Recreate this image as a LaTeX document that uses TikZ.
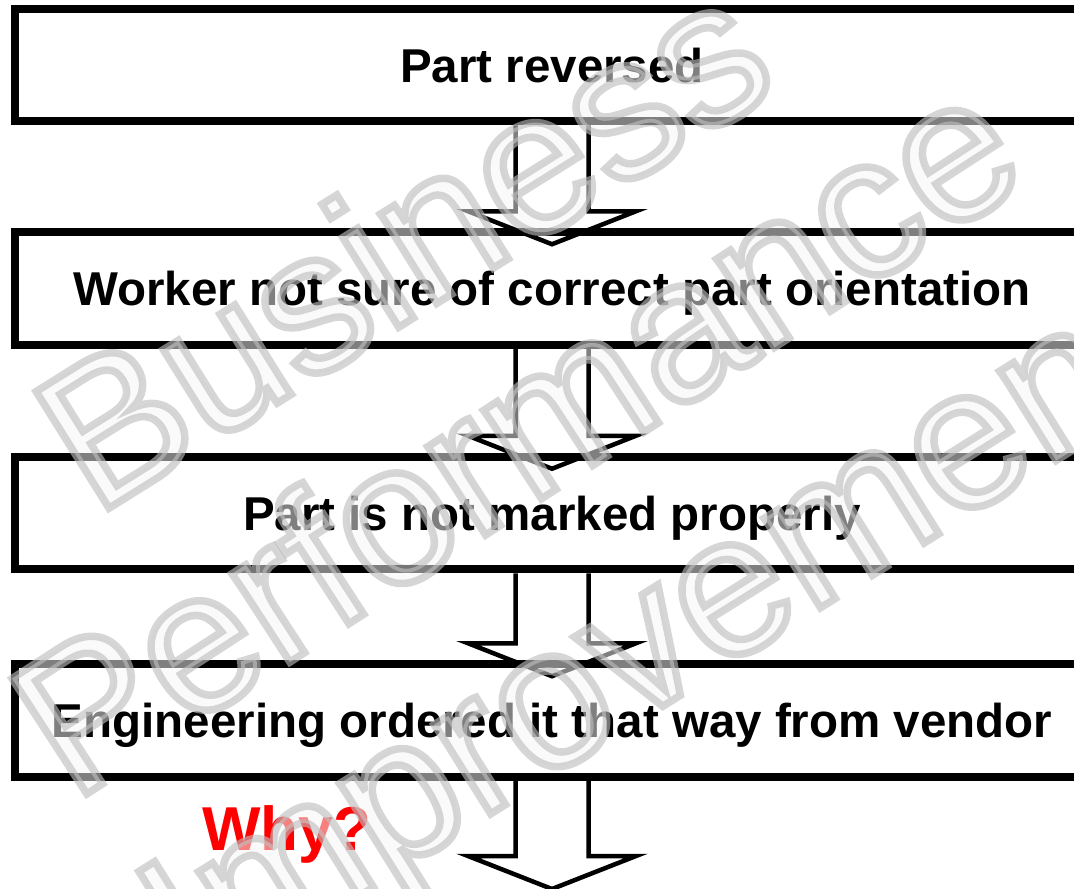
\documentclass[tikz,border=0pt]{standalone}
\usepackage{fontspec}
\setmainfont{Liberation Sans}
\usetikzlibrary{calc}

% Hollow lettering: translucent pale fill with a wide grey stroke of the
% glyph outlines (PDF text render mode 2)
\newcommand\hollowtext[1]{%
  \pgfsetfillopacity{0.52}\pgfsetstrokeopacity{0.62}%
  \special{pdf:literal direct 2 Tr 7.5 w 0.74 G}#1%
  \special{pdf:literal direct 0 Tr 0 G}}

\begin{document}
\begin{tikzpicture}[x=1pt,y=-1pt,
  stepbox/.style={draw, line width=8pt, minimum width=1074pt,
    minimum height=112.5pt, inner sep=0pt, text height=34pt, text depth=0pt,
    font=\bfseries\fontsize{47.5}{50}\selectfont},
  blockarrow/.style={draw, line width=4.5pt, miter limit=10},
  whylabel/.style={text=red, inner sep=0pt, anchor=base west,
    font=\bfseries\fontsize{62}{64}\selectfont},
  marktext/.style={inner sep=0pt, anchor=base west, text=white!96!black,
    font=\fontsize{200}{200}\selectfont}]

\useasboundingbox (0,0) rectangle (1074,889);
\clip (0,0) rectangle (1074,889);

% chain of causes
\node[stepbox] (b1) at (552,65)    {Part reversed};
\node[stepbox] (b2) at (552,288.5) {Worker not sure of correct part orientation};
\node[stepbox] (b3) at (552,513)   {Part is not marked properly};
\node[stepbox] (b4) at (552,720.5) {Engineering ordered it that way from vendor};
\coordinate (tail) at (552,889);

% block arrows between the boxes
\foreach \a/\b in {b1/b2, b2/b3, b3/b4}{
  \draw[blockarrow] ($(\a.south)+(-36.5,0)$) |- ($(\b.north)+(-84,-17)$)
    -- ($(\b.north)+(0,16)$) -- ($(\b.north)+(84,-17)$) -| ($(\a.south)+(36.5,0)$);
}
\draw[blockarrow] ($(b4.south)+(-36.5,0)$) |- ($(tail)+(-84,-33)$)
  -- (tail) -- ($(tail)+(84,-33)$) -| ($(b4.south)+(36.5,0)$);

\node[whylabel] (why) at (202,850) {Why?};

% watermark
\node[marktext, rotate=32] (wm1) at (95,517)  {\hollowtext{Business}};
\node[marktext, rotate=33] (wm2) at (73,803)  {\hollowtext{Performance}};
\node[marktext, rotate=32] (wm3) at (196,998) {\hollowtext{Improvement}};
\end{tikzpicture}
\end{document}
